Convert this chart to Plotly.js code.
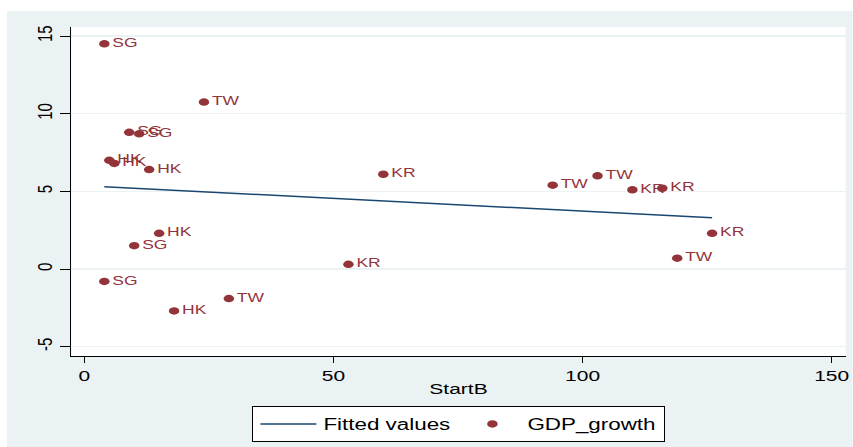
<!DOCTYPE html>
<html>
<head>
<meta charset="utf-8">
<script src="https://cdn.plot.ly/plotly-3.0.1.min.js"></script>
<style>
  html, body { margin: 0; padding: 0; background: #ffffff; overflow: hidden; width: 853px; height: 447px; }
  #chart { position: absolute; left: 7px; top: 11px; width: 604px; height: 436px; transform: scaleX(1.4); transform-origin: 0 0; }
</style>
</head>
<body>
<div id="chart"></div>
<script>
// Data
const startB = [4, 24, 9, 11, 5, 6, 13, 60, 94, 103, 110, 116, 126, 119, 15, 10, 53, 4, 29, 18];
const gdpGrowth = [14.5, 10.75, 8.8, 8.7, 7.0, 6.8, 6.4, 6.1, 5.4, 6.0, 5.1, 5.2, 2.3, 0.7, 2.3, 1.5, 0.3, -0.8, -1.9, -2.7];
const country = ["SG", "TW", "SG", "SG", "HK", "HK", "HK", "KR", "TW", "TW", "KR", "KR", "KR", "TW", "HK", "SG", "KR", "SG", "TW", "HK"];
const fittedX = [4, 126];
const fittedY = [5.3, 3.3];
const xTicks = [0, 50, 100, 150];
const yTicks = [-5, 0, 5, 10, 15];

const maroon = "#923439";
const navy = "#1a476f";
const bg = "#eaf2f3";
const font = "'Liberation Sans', Arial, sans-serif";

const traces = [
  {
    type: "scatter", mode: "lines", name: "Fitted values",
    x: fittedX, y: fittedY,
    line: { color: navy, width: 1.5 },
    hoverinfo: "skip"
  },
  {
    type: "scatter", mode: "markers+text", name: "GDP_growth",
    x: startB, y: gdpGrowth, text: country,
    textposition: "middle right",
    textfont: { family: font, size: 12.5, color: maroon },
    marker: { color: maroon, size: 7.5 }
  }
];

const layout = {
  width: 604, height: 436,
  margin: { l: 45.7, r: 5.4, t: 16, b: 91, pad: 0 },
  paper_bgcolor: bg,
  plot_bgcolor: "#ffffff",
  font: { family: font, size: 15, color: "#000000" },
  showlegend: true,
  legend: {
    orientation: "h", x: 0.5, xanchor: "center", y: -0.152, yanchor: "top",
    bgcolor: "#ffffff", bordercolor: "#000000", borderwidth: 1,
    font: { family: font, size: 16, color: "#000000" },
    itemwidth: 40, traceorder: "normal"
  },
  xaxis: {
    range: [-2.61, 152.8],
    tickmode: "array", tickvals: xTicks, ticktext: xTicks.map(String),
    ticks: "outside", ticklen: 6, tickwidth: 1, tickcolor: "#000000",
    showline: true, linecolor: "#000000", linewidth: 1,
    showgrid: false, zeroline: false,
    tickfont: { family: font, size: 15, color: "#000000" },
    title: { text: "StartB", font: { family: font, size: 15, color: "#000000" }, standoff: 0 },
    automargin: false
  },
  yaxis: {
    range: [-5.6, 15.58],
    tickmode: "array", tickvals: yTicks, ticktext: yTicks.map(String),
    ticks: "outside", ticklen: 7, tickwidth: 1, tickcolor: "#000000",
    tickangle: -90,
    showline: true, linecolor: "#000000", linewidth: 1,
    showgrid: true, gridcolor: bg, gridwidth: 1.5,
    zeroline: false,
    tickfont: { family: font, size: 15, color: "#000000" },
    automargin: false
  }
};

Plotly.newPlot("chart", traces, layout, { staticPlot: true, displayModeBar: false });
</script>
</body>
</html>
